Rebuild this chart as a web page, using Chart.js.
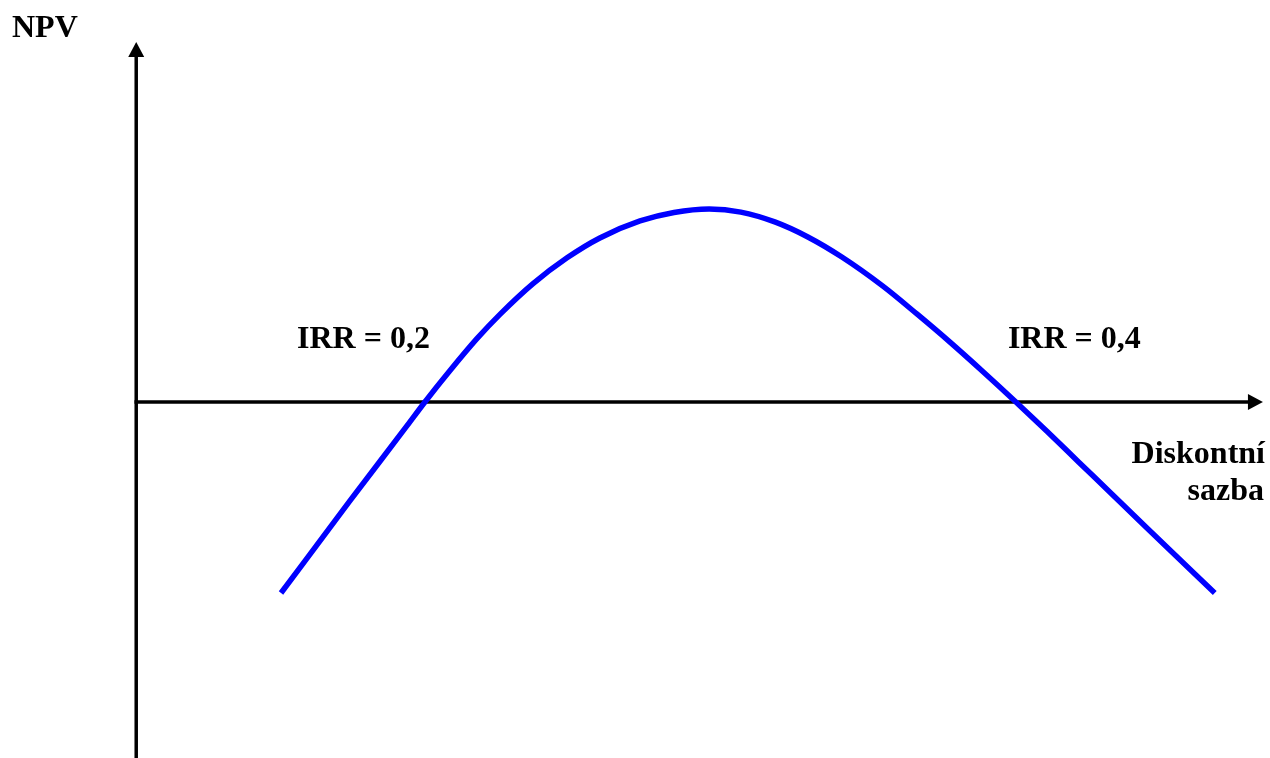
<!DOCTYPE html>
<html>
<head>
<meta charset="utf-8">
<script src="https://cdn.jsdelivr.net/npm/chart.js@4/dist/chart.umd.min.js"></script>
<style>
  html, body { margin: 0; padding: 0; background: #ffffff; }
  #wrap { width: 1270px; height: 758px; }
</style>
</head>
<body>
<div id="wrap"><canvas id="c" width="1270" height="758"></canvas></div>
<script>
// Discount rate (x) and NPV (y, arbitrary units)
const rates = [0.1513, 0.1746, 0.1939, 0.2000, 0.2085, 0.2176, 0.2254, 0.2365, 0.2481, 0.2592, 0.2728, 0.2843, 0.2962, 0.3069, 0.3184, 0.3296, 0.3411, 0.3550, 0.3665, 0.3777, 0.3888, 0.4000, 0.4105, 0.4213, 0.4447, 0.4673];
const npv   = [-99,    -51.3,  -12.4,  0,      16.3,   32.8,   45.4,   61.2,   74.7,   85.0,   93.8,   98.2,   100,    98.4,   93.3,   85.5,   75.1,   60.0,   45.6,   31.0,   15.8,   0,      -15.2,  -31.2,  -65.8,  -99];
const irrValues = [0.2, 0.4];
const irrLabels = ['IRR = 0,2', 'IRR = 0,4'];
const yAxisTitle = 'NPV';
const xAxisTitle = ['Diskontní', 'sazba'];

// scale ranges
const xMin = 0.0562, xMax = 0.4860;
const yMin = -184.5, yMax = 208.3;
const axisOriginRate = 0.1023;   // where the vertical axis sits
const xArrowRate = 0.4836;       // tip of horizontal arrow
const yArrowNpv = 186.5;         // tip of vertical arrow

const FONT = 'bold 32px "Liberation Serif", "Times New Roman", serif';

const axesPlugin = {
  id: 'axesPlugin',
  beforeDatasetsDraw(chart) {
    const ctx = chart.ctx;
    const xs = chart.scales.x, ys = chart.scales.y;
    const ox = xs.getPixelForValue(axisOriginRate);
    const oy = ys.getPixelForValue(0);
    const tipX = xs.getPixelForValue(xArrowRate);
    const tipY = ys.getPixelForValue(yArrowNpv);
    ctx.save();
    ctx.strokeStyle = '#000';
    ctx.fillStyle = '#000';
    ctx.lineWidth = 3.5;
    // vertical axis
    ctx.beginPath();
    ctx.moveTo(ox, chart.height);
    ctx.lineTo(ox, tipY + 12);
    ctx.stroke();
    ctx.beginPath();
    ctx.moveTo(ox, tipY);
    ctx.lineTo(ox - 8, tipY + 15);
    ctx.lineTo(ox + 8, tipY + 15);
    ctx.closePath();
    ctx.fill();
    // horizontal axis
    ctx.beginPath();
    ctx.moveTo(ox - 1.75, oy);
    ctx.lineTo(tipX - 12, oy);
    ctx.stroke();
    ctx.beginPath();
    ctx.moveTo(tipX, oy);
    ctx.lineTo(tipX - 15, oy - 8);
    ctx.lineTo(tipX - 15, oy + 8);
    ctx.closePath();
    ctx.fill();
    ctx.restore();
  },
  afterDatasetsDraw(chart) {
    const ctx = chart.ctx;
    const xs = chart.scales.x, ys = chart.scales.y;
    const oy = ys.getPixelForValue(0);
    ctx.save();
    ctx.font = FONT;
    ctx.fillStyle = '#000';
    ctx.textBaseline = 'alphabetic';
    // NPV title
    ctx.textAlign = 'left';
    ctx.fillText(yAxisTitle, 12, 37);
    // IRR labels
    ctx.textAlign = 'right';
    ctx.fillText(irrLabels[0], xs.getPixelForValue(irrValues[0]) + 5, oy - 54);
    ctx.textAlign = 'left';
    ctx.fillText(irrLabels[1], xs.getPixelForValue(irrValues[1]) - 8, oy - 54);
    // x axis title
    ctx.textAlign = 'right';
    ctx.fillText(xAxisTitle[0], 1265, oy + 61);
    ctx.fillText(xAxisTitle[1], 1264, oy + 98);
    ctx.restore();
  }
};

new Chart(document.getElementById('c'), {
  type: 'line',
  data: {
    datasets: [{
      data: rates.map((r, i) => ({ x: r, y: npv[i] })),
      borderColor: '#0000ff',
      borderWidth: 5.5,
      pointRadius: 0,
      cubicInterpolationMode: 'monotone',
      fill: false
    }]
  },
  options: {
    responsive: false,
    animation: false,
    devicePixelRatio: 1,
    layout: { padding: 0 },
    plugins: { legend: { display: false }, tooltip: { enabled: false } },
    scales: {
      x: { type: 'linear', min: xMin, max: xMax, display: false },
      y: { type: 'linear', min: yMin, max: yMax, display: false }
    }
  },
  plugins: [axesPlugin]
});
</script>
</body>
</html>
